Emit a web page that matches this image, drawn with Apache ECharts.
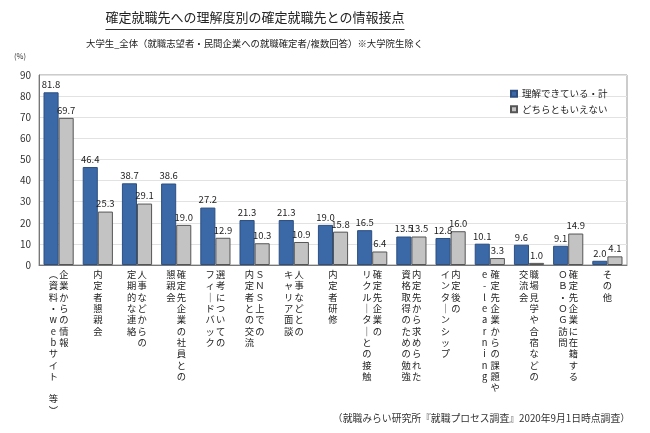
<!DOCTYPE html>
<html><head><meta charset="utf-8">
<script src="https://cdn.jsdelivr.net/npm/echarts@6/dist/echarts.min.js"></script>
<style>html,body{margin:0;padding:0;background:#fff}#c{width:650px;height:433px}</style>
</head><body><div id="c"></div>
<script>
// categories: columns separated by \n (first = right-most column in vertical writing)
const categories = [
  '企業からの情報\n（資料・webサイト　等）',
  '内定者懇親会',
  '人事などからの\n定期的な連絡',
  '確定先企業の社員との\n懇親会',
  '選考についての\nフィードバック',
  'ＳＮＳ上での\n内定者との交流',
  '人事などとの\nキャリア面談',
  '内定者研修',
  '確定先企業の\nリクルーターとの接触',
  '内定先から求められた\n資格取得のための勉強',
  '内定後の\nインターンシップ',
  '確定先企業からの課題や\ne-learning',
  '職場見学や合宿などの\n交流会',
  '確定先企業に在籍する\nＯＢ・ＯＧ訪問',
  'その他'
];
const seriesNames = ['理解できている・計', 'どちらともいえない'];
const understood = [81.8, 46.4, 38.7, 38.6, 27.2, 21.3, 21.3, 19.0, 16.5, 13.5, 12.8, 10.1, 9.6, 9.1, 2.0];
const neutral    = [69.7, 25.3, 29.1, 19.0, 12.9, 10.3, 10.9, 15.8, 6.4, 13.5, 16.0, 3.3, 1.0, 14.9, 4.1];
const yTicks = [0, 10, 20, 30, 40, 50, 60, 70, 80, 90];
const titleText = '確定就職先への理解度別の確定就職先との情報接点';
const subtitleText = '大学生_全体（就職志望者・民間企業への就職確定者/複数回答）※大学院生除く';
const noteText = '（就職みらい研究所『就職プロセス調査』2020年9月1日時点調査）';

const FONT = '"Noto Sans CJK JP", "Noto Sans", sans-serif';
const vmap = {'ー':'｜','（':'︵','）':'︶'};
function vert(s){ return Array.from(s).map(ch => vmap[ch] || ch); }
function vertLabel(v){
  const cols = v.split('\n').map(vert);
  const n = Math.max(...cols.map(c => c.length));
  const lines = [];
  for (let i = 0; i < n; i++) {
    let line = '';
    for (let j = cols.length - 1; j >= 0; j--) {
      const ch = cols[j][i] || '　';
      line += '{c|' + ch + '}';
    }
    lines.push(line);
  }
  return lines.join('\n');
}

// measure title width for centring + underline
const TITLE_SIZE = 13, TITLE_CX = 255;
const mctx = document.createElement('canvas').getContext('2d');
mctx.font = TITLE_SIZE + 'px ' + FONT;
const titleW = mctx.measureText(titleText).width;
const titleLeft = TITLE_CX - titleW / 2;

const chart = echarts.init(document.getElementById('c'), null, {renderer: 'canvas'});
const labelStyle = {show: true, position: 'top', distance: 3, fontSize: 9.5, color: '#222', fontFamily: FONT,
  formatter: p => p.value.toFixed(1)};
chart.setOption({
  backgroundColor: '#fff',
  animation: false,
  textStyle: {fontFamily: FONT},
  graphic: [
    {type: 'text', left: titleLeft, top: 11, style: {text: titleText, fontSize: TITLE_SIZE, fill: '#222', fontFamily: FONT}},
    {type: 'line', shape: {x1: titleLeft, y1: 29.5, x2: titleLeft + titleW, y2: 29.5}, style: {stroke: '#333', lineWidth: 1}},
    {type: 'text', top: 39, left: 86, style: {text: subtitleText, fontSize: 9.4, fill: '#222', fontFamily: FONT}},
    {type: 'text', left: 14, top: 52, style: {text: '(%)', fontSize: 7.5, fill: '#333', fontFamily: FONT}},
    {type: 'text', right: 20, top: 413, style: {text: noteText, fontSize: 9.8, fill: '#333', fontFamily: FONT}}
  ],
  legend: {
    orient: 'vertical', left: 505, top: 84, itemWidth: 6, itemHeight: 6, itemGap: 6,
    icon: 'rect',
    textStyle: {fontSize: 9.5, color: '#222', fontFamily: FONT},
    data: seriesNames
  },
  grid: {left: 39, right: 23, top: 75, bottom: 168, show: true, borderColor: '#999', borderWidth: 1},
  xAxis: {
    type: 'category', data: categories,
    axisLine: {lineStyle: {color: '#777'}},
    axisTick: {show: false},
    axisLabel: {
      interval: 0, margin: 4, hideOverlap: false,
      formatter: vertLabel,
      rich: {c: {width: 10.5, align: 'center', fontSize: 9.3, lineHeight: 11.3, color: '#222', fontFamily: FONT}}
    }
  },
  yAxis: {
    type: 'value', min: 0, max: 90, interval: 10,
    axisLine: {show: true, lineStyle: {color: '#777'}},
    axisTick: {show: false},
    splitLine: {lineStyle: {color: '#e2e2e2'}},
    axisLabel: {fontSize: 10, color: '#333', margin: 8, formatter: v => yTicks.includes(v) ? String(v) : ''}
  },
  series: [
    {name: seriesNames[0], type: 'bar', data: understood, barGap: '0%', barCategoryGap: '23%',
      itemStyle: {color: '#3b68a6', borderColor: '#2c4f80', borderWidth: 1}, label: labelStyle},
    {name: seriesNames[1], type: 'bar', data: neutral,
      itemStyle: {color: '#c3c3c3', borderColor: '#555', borderWidth: 1}, label: labelStyle}
  ]
});
</script>
</body></html>
